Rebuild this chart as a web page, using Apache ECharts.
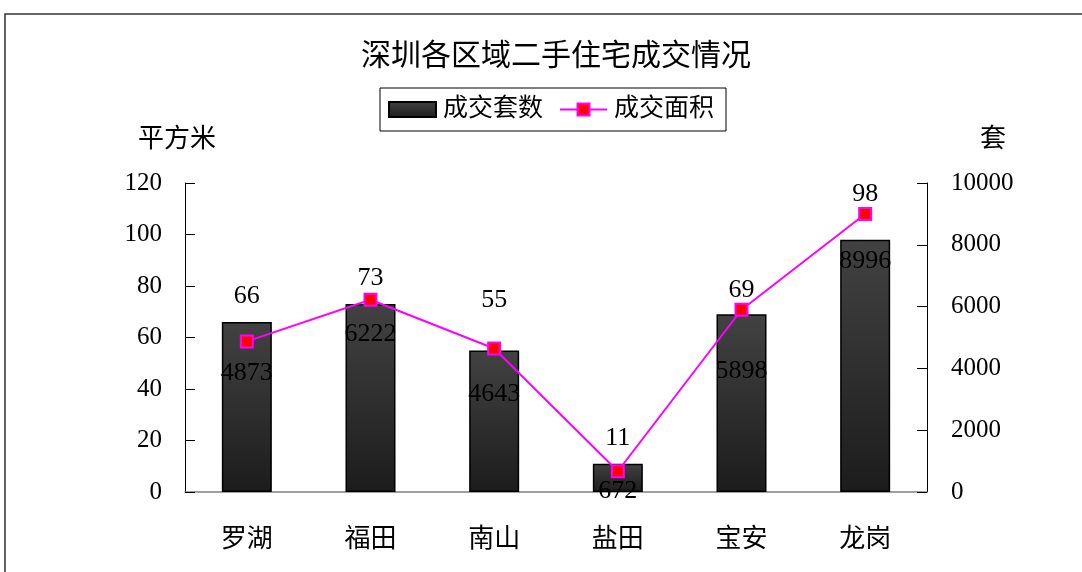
<!DOCTYPE html>
<html>
<head>
<meta charset="utf-8">
<script src="https://cdn.jsdelivr.net/npm/echarts@6/dist/echarts.min.js"></script>
<style>
html,body{margin:0;padding:0;background:#fff;}
#chart{width:1082px;height:572px;}
</style>
</head>
<body>
<div id="chart"></div>
<script>
const categories = ['罗湖', '福田', '南山', '盐田', '宝安', '龙岗'];
const countValues = [66, 73, 55, 11, 69, 98];          // 成交套数 (left axis)
const areaValues = [4873, 6222, 4643, 672, 5898, 8996]; // 成交面积 (right axis)
const leftTicks = { min: 0, max: 120, interval: 20 };
const rightTicks = { min: 0, max: 10000, interval: 2000 };
// label distances (style)
const barLabelGap = [13, 13, 37, 13, 11, 32];
const lineLabelGap = [12, 14, 26, 0, 41, 27];

const FONT = "'Liberation Serif', 'Noto Sans CJK SC', serif";
const chart = echarts.init(document.getElementById('chart'));

chart.setOption({
  backgroundColor: '#fff',
  animation: false,
  textStyle: { fontFamily: FONT, color: '#000' },
  title: {
    text: '深圳各区域二手住宅成交情况',
    left: 551, top: 37, textAlign: 'center',
    textStyle: { fontFamily: FONT, fontSize: 30, fontWeight: 'normal', color: '#000' }
  },
  graphic: [{
    type: 'rect', silent: true,
    shape: { x: 5, y: 14, width: 1200, height: 700 },
    style: { fill: 'none', stroke: '#333', lineWidth: 1.5 }
  }],
  legend: {
    left: 380, top: 88, width: 342,
    padding: [9, 12, 9, 8],
    itemGap: 16,
    itemWidth: 47, itemHeight: 15,
    borderColor: '#000', borderWidth: 1,
    textStyle: { fontFamily: FONT, fontSize: 25, color: '#000', padding: [0, 0, 0, 2] },
    data: [{ name: '成交套数', icon: 'rect' }, { name: '成交面积' }]
  },
  grid: { left: 185, right: 155, top: 183, bottom: 80 },
  xAxis: {
    type: 'category',
    data: categories,
    axisLine: { lineStyle: { color: '#808080', width: 1.5 } },
    axisTick: { inside: true, length: 9, lineStyle: { color: '#808080' } },
    axisLabel: { margin: 35, fontFamily: FONT, fontSize: 26, color: '#000' }
  },
  yAxis: [{
    type: 'value',
    min: leftTicks.min, max: leftTicks.max, interval: leftTicks.interval,
    name: '平方米', nameLocation: 'end', nameGap: 30,
    nameTextStyle: { fontFamily: FONT, fontSize: 26, color: '#000', padding: [0, 16, 0, 0] },
    axisLine: { show: true, lineStyle: { color: '#000', width: 1 } },
    axisTick: { show: true, inside: true, length: 10, lineStyle: { color: '#000' } },
    axisLabel: { margin: 23, fontFamily: FONT, fontSize: 25, color: '#000' },
    splitLine: { show: false }
  }, {
    type: 'value',
    min: rightTicks.min, max: rightTicks.max, interval: rightTicks.interval,
    name: '套', nameLocation: 'end', nameGap: 30,
    nameTextStyle: { fontFamily: FONT, fontSize: 26, color: '#000', align: 'left', padding: [0, 0, 0, 53] },
    axisLine: { show: true, lineStyle: { color: '#000', width: 1 } },
    axisTick: { show: true, inside: true, length: 10, lineStyle: { color: '#000' } },
    axisLabel: { margin: 24, fontFamily: FONT, fontSize: 25, color: '#000', formatter: v => String(v) },
    splitLine: { show: false }
  }],
  series: [{
    name: '成交套数',
    type: 'bar',
    yAxisIndex: 0,
    barWidth: 50,
    itemStyle: {
      color: new echarts.graphic.LinearGradient(0, 0, 0, 1, [
        { offset: 0, color: '#424242' },
        { offset: 1, color: '#1c1c1c' }
      ]),
      borderColor: '#000', borderWidth: 1.5
    },
    data: countValues.map((v, i) => ({
      value: v,
      label: { distance: barLabelGap[i] }
    })),
    label: {
      show: true, position: 'top',
      fontFamily: FONT, fontSize: 26, color: '#000'
    },
    z: 2
  }, {
    name: '成交面积',
    type: 'line',
    yAxisIndex: 1,
    symbol: 'rect',
    symbolSize: 12,
    lineStyle: { color: '#FF00FF', width: 2 },
    itemStyle: { color: '#FF0000', borderColor: '#FF00FF', borderWidth: 2 },
    data: areaValues.map((v, i) => ({
      value: v,
      label: { distance: lineLabelGap[i] }
    })),
    label: {
      show: true, position: 'bottom',
      fontFamily: FONT, fontSize: 26, color: '#000'
    },
    z: 5
  }]
});
</script>
</body>
</html>
